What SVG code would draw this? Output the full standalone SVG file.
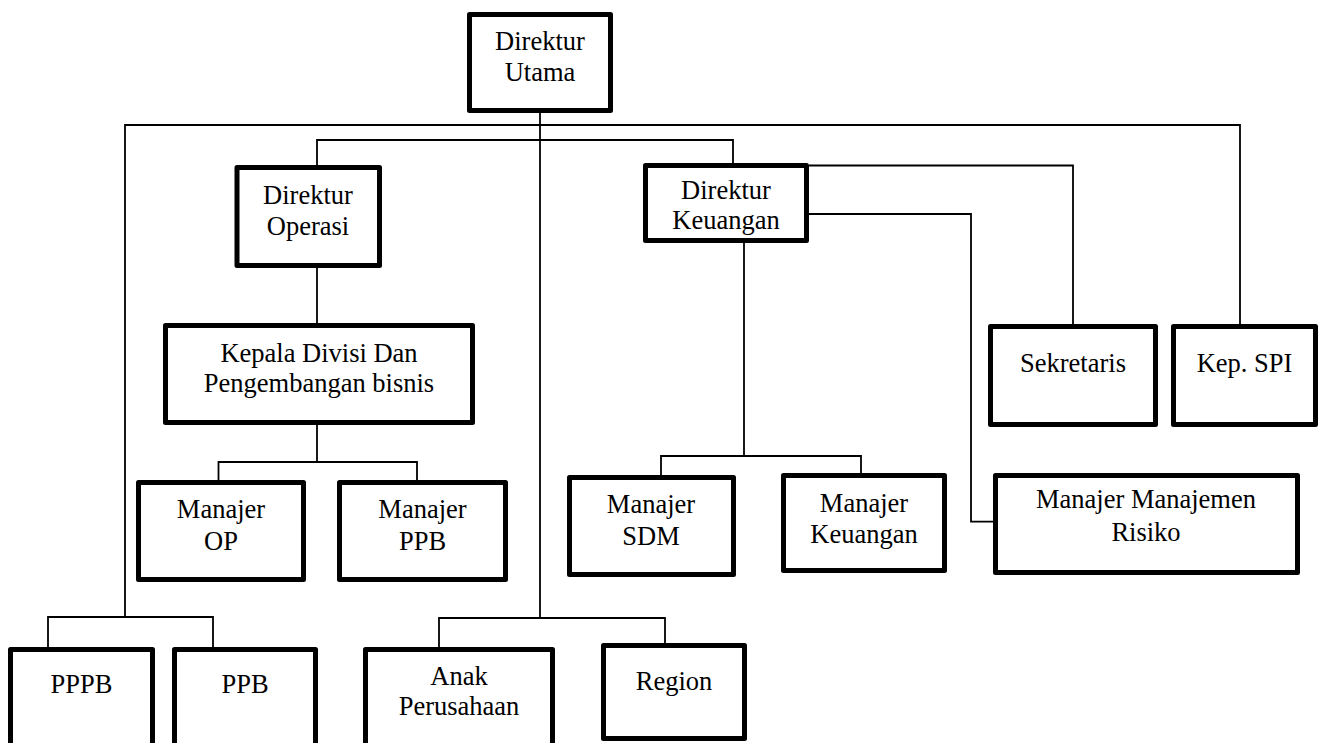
<svg xmlns="http://www.w3.org/2000/svg" width="1323" height="743" viewBox="0 0 1323 743">
<style>
.box{fill:#fff;stroke:#000;stroke-width:5;stroke-linejoin:round}
.ln{fill:none;stroke:#000;stroke-width:1.8}
text{font-family:"Liberation Serif","Times New Roman",serif;font-size:26.5px;fill:#000;text-anchor:middle}
</style>
<rect width="1323" height="743" fill="#fff"/>
<g id="connectors">
<path class="ln" d="M540,113 V618"/>
<path class="ln" d="M125,617 V125 H1240 V324"/>
<path class="ln" d="M317,165 V140 H733 V163"/>
<path class="ln" d="M809,165.5 H1073 V324"/>
<path class="ln" d="M809,214 H971 V521.7 H993"/>
<path class="ln" d="M317,268 V323"/>
<path class="ln" d="M317,425 V462"/>
<path class="ln" d="M218.5,480 V462 H417 V480"/>
<path class="ln" d="M744,243 V456"/>
<path class="ln" d="M661,475 V456 H861 V473"/>
<path class="ln" d="M48,647 V617 H213 V647"/>
<path class="ln" d="M439,647 V618 H665 V643"/>
</g>
<g id="direktur-utama"><rect class="box" x="469.5" y="14.5" width="141" height="96"/><text x="540" y="50">Direktur</text><text x="540" y="81">Utama</text></g>
<g id="direktur-operasi"><rect class="box" x="237" y="167.5" width="142.5" height="98"/><text x="308" y="204">Direktur</text><text x="308" y="235">Operasi</text></g>
<g id="direktur-keuangan"><rect class="box" x="645.5" y="165.5" width="161" height="75"/><text x="726" y="199">Direktur</text><text x="726" y="229">Keuangan</text></g>
<g id="kepala-divisi"><rect class="box" x="165.5" y="325.5" width="307" height="97"/><text x="319" y="362">Kepala Divisi Dan</text><text x="319" y="392">Pengembangan bisnis</text></g>
<g id="manajer-op"><rect class="box" x="138.5" y="482.5" width="165" height="97"/><text x="221" y="518">Manajer</text><text x="221" y="550">OP</text></g>
<g id="manajer-ppb"><rect class="box" x="339.5" y="482.5" width="166" height="97"/><text x="422.5" y="518">Manajer</text><text x="422.5" y="550">PPB</text></g>
<g id="manajer-sdm"><rect class="box" x="569.5" y="477.5" width="164" height="97"/><text x="651" y="513">Manajer</text><text x="651" y="545">SDM</text></g>
<g id="manajer-keuangan"><rect class="box" x="783.5" y="475.5" width="161" height="95"/><text x="864" y="512">Manajer</text><text x="864" y="543">Keuangan</text></g>
<g id="manajer-risiko"><rect class="box" x="995.5" y="475.5" width="302" height="97"/><text x="1146" y="508">Manajer Manajemen</text><text x="1146" y="541">Risiko</text></g>
<g id="sekretaris"><rect class="box" x="990.5" y="326.5" width="165" height="98"/><text x="1073" y="372">Sekretaris</text></g>
<g id="kep-spi"><rect class="box" x="1173.5" y="326.5" width="142" height="98"/><text x="1244.5" y="372">Kep. SPI</text></g>
<g id="pppb"><rect class="box" x="10.5" y="649.5" width="142" height="110"/><text x="81.5" y="693">PPPB</text></g>
<g id="ppb"><rect class="box" x="174.5" y="649.5" width="141" height="110"/><text x="245" y="693">PPB</text></g>
<g id="anak-perusahaan"><rect class="box" x="365.5" y="649.5" width="187" height="110"/><text x="459" y="685">Anak</text><text x="459" y="715">Perusahaan</text></g>
<g id="region"><rect class="box" x="603.5" y="645.5" width="141" height="93"/><text x="674" y="690">Region</text></g>
</svg>
